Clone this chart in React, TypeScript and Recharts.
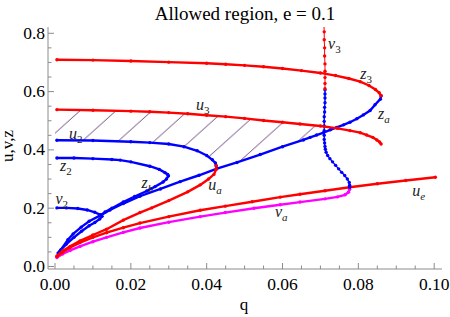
import React from 'react';
import { ComposedChart, Area, Scatter, XAxis, YAxis, ReferenceDot } from 'recharts';

type Pt = [number, number];

// axis ticks (majors get labels)
const xTicks = [0, 0.005, 0.01, 0.015, 0.02, 0.025, 0.03, 0.035, 0.04, 0.045, 0.05, 0.055, 0.06, 0.065, 0.07, 0.075, 0.08, 0.085, 0.09, 0.095, 0.1];
const yTicks = [0, 0.05, 0.1, 0.15, 0.2, 0.25, 0.3, 0.35, 0.4, 0.45, 0.5, 0.55, 0.6, 0.65, 0.7, 0.75, 0.8];

// curves, [q, value]
const z3: Pt[] = [[0.0005, 0.709], [0.01, 0.708], [0.02, 0.705], [0.03, 0.701], [0.04, 0.697], [0.045, 0.694], [0.05, 0.69], [0.055, 0.685], [0.06, 0.679], [0.065, 0.672], [0.07, 0.664], [0.074, 0.655], [0.0775, 0.645], [0.0805, 0.634], [0.0828, 0.621], [0.0845, 0.607], [0.0855, 0.596], [0.086, 0.586]];
const za: Pt[] = [[0.086, 0.586], [0.0858, 0.574], [0.0844, 0.555], [0.0831, 0.535], [0.0813, 0.52], [0.0796, 0.507], [0.0778, 0.495], [0.0761, 0.486], [0.0743, 0.477], [0.0726, 0.469], [0.0708, 0.459], [0.069, 0.451], [0.0673, 0.443], [0.0655, 0.434], [0.06, 0.411], [0.0541, 0.384], [0.048, 0.357], [0.0427, 0.336], [0.038, 0.313], [0.033, 0.291], [0.0278, 0.266], [0.0224, 0.241], [0.018, 0.216], [0.0145, 0.194], [0.0122, 0.177], [0.009, 0.155], [0.0069, 0.135], [0.0048, 0.112], [0.0034, 0.092], [0.0012, 0.051]];
const u3: Pt[] = [[0.0005, 0.538], [0.01, 0.536], [0.02, 0.533], [0.025, 0.531], [0.03, 0.528], [0.035, 0.524], [0.04, 0.519], [0.045, 0.514], [0.05, 0.508], [0.055, 0.501], [0.06, 0.495], [0.0646, 0.489], [0.07, 0.482], [0.0745, 0.474], [0.0778, 0.466], [0.0805, 0.459], [0.0822, 0.451], [0.0838, 0.443], [0.0849, 0.434], [0.0856, 0.427], [0.086, 0.42]];
const u2: Pt[] = [[0.0005, 0.433], [0.01, 0.432], [0.02, 0.428], [0.025, 0.425], [0.03, 0.42], [0.034, 0.411], [0.0375, 0.397], [0.04, 0.381], [0.0415, 0.366], [0.0423, 0.355], [0.0425, 0.346]];
const ua: Pt[] = [[0.0425, 0.346], [0.0425, 0.333], [0.0419, 0.316], [0.0405, 0.3], [0.0383, 0.28], [0.035, 0.256], [0.03, 0.226], [0.0255, 0.201], [0.0224, 0.185], [0.018, 0.159], [0.0136, 0.128], [0.01, 0.108], [0.0066, 0.088], [0.004, 0.069], [0.002, 0.053], [0.0005, 0.036]];
const ue: Pt[] = [[0.0005, 0.034], [0.002, 0.049], [0.004, 0.065], [0.0066, 0.082], [0.01, 0.1], [0.0136, 0.116], [0.018, 0.133], [0.0224, 0.149], [0.03, 0.171], [0.0383, 0.193], [0.0449, 0.207], [0.052, 0.222], [0.0594, 0.238], [0.0646, 0.248], [0.0712, 0.26], [0.0777, 0.272], [0.085, 0.284], [0.0925, 0.295], [0.1003, 0.306]];
const va: Pt[] = [[0.0005, 0.031], [0.002, 0.043], [0.004, 0.055], [0.0066, 0.069], [0.01, 0.085], [0.0136, 0.1], [0.018, 0.117], [0.0224, 0.132], [0.03, 0.152], [0.0383, 0.171], [0.0449, 0.185], [0.0525, 0.2], [0.0594, 0.212], [0.0646, 0.221], [0.0712, 0.232], [0.0745, 0.239], [0.0765, 0.246], [0.0774, 0.255], [0.0777, 0.265], [0.0777, 0.272]];
const z2: Pt[] = [[0.0005, 0.372], [0.005, 0.372], [0.01, 0.37], [0.015, 0.367], [0.0172, 0.365], [0.02, 0.359], [0.025, 0.344], [0.0275, 0.333], [0.029, 0.322], [0.0297, 0.316], [0.0299, 0.311]];
const zb: Pt[] = [[0.0299, 0.311], [0.0294, 0.3], [0.0285, 0.29], [0.0264, 0.274], [0.0242, 0.259], [0.021, 0.24], [0.018, 0.221], [0.015, 0.2], [0.0132, 0.187], [0.0122, 0.177]];
const v2: Pt[] = [[0.0005, 0.201], [0.003, 0.201], [0.006, 0.199], [0.0085, 0.194], [0.0105, 0.186], [0.0118, 0.178], [0.0124, 0.172], [0.0118, 0.163], [0.0105, 0.151], [0.009, 0.14], [0.007, 0.121], [0.005, 0.1], [0.003, 0.077], [0.0015, 0.057], [0.0008, 0.046]];
const v3Top: Pt[] = [[0.0709, 0.835], [0.071, 0.805], [0.071, 0.778], [0.0711, 0.75], [0.0711, 0.722], [0.0712, 0.695], [0.0712, 0.67], [0.0712, 0.648], [0.0712, 0.628], [0.0712, 0.61]];
const v3Low: Pt[] = [[0.0712, 0.606], [0.0712, 0.592], [0.0712, 0.578], [0.0712, 0.562], [0.0711, 0.546], [0.0711, 0.53], [0.071, 0.514], [0.071, 0.498], [0.071, 0.482], [0.071, 0.466], [0.071, 0.45], [0.071, 0.436], [0.0711, 0.424], [0.0712, 0.412], [0.0713, 0.402], [0.0715, 0.392], [0.0719, 0.381], [0.0725, 0.37], [0.0732, 0.359], [0.074, 0.347], [0.0748, 0.335], [0.0756, 0.323], [0.0764, 0.312], [0.0771, 0.3], [0.0776, 0.288], [0.0777, 0.279], [0.0777, 0.272]];

// allowed (hatched) region between u3 and u2 / za
const hatchQ = [0, 0.005, 0.01, 0.015, 0.02, 0.025, 0.03, 0.035, 0.04, 0.0425, 0.045, 0.05, 0.055, 0.06, 0.065, 0.07, 0.0738];
const hatchHi = [0.538, 0.537, 0.536, 0.535, 0.533, 0.531, 0.528, 0.524, 0.519, 0.516, 0.514, 0.508, 0.501, 0.495, 0.489, 0.482, 0.475];
const hatchLo = [0.433, 0.433, 0.432, 0.43, 0.428, 0.425, 0.42, 0.407, 0.381, 0.346, 0.345, 0.366, 0.39, 0.411, 0.432, 0.454, 0.475];

const curveLabels = [
  { q: 0.0372, v: 0.537, main: 'u', sub: '3' },
  { q: 0.0037, v: 0.436, main: 'u', sub: '2' },
  { q: 0.0013, v: 0.326, main: 'z', sub: '2' },
  { q: 0.0001, v: 0.213, main: 'v', sub: '2' },
  { q: 0.0228, v: 0.27, main: 'z', sub: 'b' },
  { q: 0.0404, v: 0.263, main: 'u', sub: 'a' },
  { q: 0.0805, v: 0.643, main: 'z', sub: '3' },
  { q: 0.0852, v: 0.506, main: 'z', sub: 'a' },
  { q: 0.072, v: 0.746, main: 'v', sub: '3' },
  { q: 0.0942, v: 0.242, main: 'u', sub: 'e' },
  { q: 0.058, v: 0.169, main: 'v', sub: 'a' },
];

const RED = '#ff0000';
const BLUE = '#0000ff';
const MAGENTA = '#ff00ff';
const FRAME = '#8c8c8c';
const SERIF = '"Liberation Serif", "Times New Roman", serif';

const X_DOMAIN = [-0.00185, 0.10206];
const Y_DOMAIN = [-0.0086, 0.8216];

const series = [
  { key: 'va', pts: va, color: MAGENTA, w: 2.4 },
  { key: 'ue', pts: ue, color: RED, w: 2.4 },
  { key: 'za', pts: za, color: BLUE, w: 2.4 },
  { key: 'zb', pts: zb, color: BLUE, w: 2.4 },
  { key: 'z2', pts: z2, color: BLUE, w: 2.4 },
  { key: 'v2', pts: v2, color: BLUE, w: 2.4 },
  { key: 'u2', pts: u2, color: BLUE, w: 2.4 },
  { key: 'v3Low', pts: v3Low, color: BLUE, w: 1.4 },
  { key: 'ua', pts: ua, color: RED, w: 2.4 },
  { key: 'u3', pts: u3, color: RED, w: 2.4 },
  { key: 'z3', pts: z3, color: RED, w: 2.4 },
  { key: 'v3Top', pts: v3Top, color: RED, w: 1 },
];

const isMajor = (v: number, step: number) => Math.abs(v / step - Math.round(v / step)) < 1e-6;

const BottomTick = (props: any) => {
  const { x, y, payload } = props;
  const major = isMajor(payload.value, 0.02);
  return (
    <g>
      <line x1={x} y1={y} x2={x} y2={y - (major ? 6 : 3.5)} stroke={FRAME} />
      {major && (
        <text x={x} y={y + 21} textAnchor="middle" fontFamily={SERIF} fontSize={17.5} fill="#000">
          {payload.value.toFixed(2)}
        </text>
      )}
    </g>
  );
};

const TopTick = (props: any) => {
  const { x, y, payload } = props;
  const major = isMajor(payload.value, 0.02);
  return <line x1={x} y1={y} x2={x} y2={y + (major ? 6 : 3.5)} stroke={FRAME} />;
};

const LeftTick = (props: any) => {
  const { x, y, payload } = props;
  const major = isMajor(payload.value, 0.2);
  return (
    <g>
      <line x1={x} y1={y} x2={x + (major ? 6 : 3.5)} y2={y} stroke={FRAME} />
      {major && (
        <text x={x - 3} y={y + 5.5} textAnchor="end" fontFamily={SERIF} fontSize={17.5} fill="#000">
          {payload.value.toFixed(1)}
        </text>
      )}
    </g>
  );
};

const RightTick = (props: any) => {
  const { x, y, payload } = props;
  const major = isMajor(payload.value, 0.2);
  return <line x1={x} y1={y} x2={x - (major ? 6 : 3.5)} y2={y} stroke={FRAME} />;
};

const YTitle = (props: any) => {
  const vb = props.viewBox || { x: 0, y: 27, width: 48, height: 242 };
  const tx = vb.x + 12.5;
  const ty = vb.y + vb.height / 2 - 2;
  return (
    <text x={tx} y={ty} transform={`rotate(-90, ${tx}, ${ty})`} textAnchor="middle" fontFamily={SERIF} fontSize={17} fill="#000">
      u,v,z
    </text>
  );
};

const dotShape = (color: string) => (p: any) => <circle cx={p.cx} cy={p.cy} r={1.7} fill={color} />;

const labelShape = (main: string, sub: string) => (p: any) => (
  <text x={p.cx} y={p.cy} fontFamily={SERIF} fontSize={16} fontStyle="italic" fill="#222">
    {main}
    <tspan fontSize={11} dy={4} fontStyle={/\d/.test(sub) ? 'normal' : 'italic'}>
      {sub}
    </tspan>
  </text>
);

export default function App() {
  const hatchData = hatchQ.map((q, i) => ({ q, range: [hatchLo[i], hatchHi[i]] }));

  return (
    <div style={{ position: 'absolute', left: 0, top: 0, width: 450, height: 317, background: '#fff' }}>
      <div
        style={{
          position: 'absolute',
          left: 145,
          top: 3.6,
          width: 200,
          textAlign: 'center',
          fontFamily: SERIF,
          fontSize: 19,
          lineHeight: '19px',
          color: '#000',
          whiteSpace: 'nowrap',
        }}
      >
        Allowed region, e = 0.1
      </div>
      <div
        style={{
          position: 'absolute',
          left: 224,
          top: 296,
          width: 40,
          textAlign: 'center',
          fontFamily: SERIF,
          fontSize: 17,
          lineHeight: '17px',
          color: '#000',
        }}
      >
        q
      </div>

      <ComposedChart width={450} height={317} data={hatchData} margin={{ top: 27, right: 8, bottom: 18, left: 0 }}>
        <defs>
          <pattern id="hatch" patternUnits="userSpaceOnUse" x={23} y={0} width={36} height={32.4}>
            <line x1={-36} y1={32.4} x2={36} y2={-32.4} stroke="#5e3470" strokeWidth={0.9} />
            <line x1={-36} y1={64.8} x2={72} y2={-32.4} stroke="#5e3470" strokeWidth={0.9} />
            <line x1={0} y1={64.8} x2={72} y2={0} stroke="#5e3470" strokeWidth={0.9} />
          </pattern>
        </defs>

        <XAxis
          dataKey="q"
          type="number"
          domain={X_DOMAIN}
          allowDataOverflow
          ticks={xTicks}
          interval={0}
          tickLine={false}
          tickSize={0}
          tickMargin={0}
          tick={<BottomTick />}
          axisLine={{ stroke: FRAME }}
          height={30}
        />
        <XAxis
          xAxisId="top"
          orientation="top"
          type="number"
          domain={X_DOMAIN}
          allowDataOverflow
          ticks={xTicks}
          interval={0}
          tickLine={false}
          tickSize={0}
          tickMargin={0}
          tick={<TopTick />}
          axisLine={{ stroke: FRAME }}
          height={0}
        />
        <YAxis
          type="number"
          domain={Y_DOMAIN}
          allowDataOverflow
          ticks={yTicks}
          interval={0}
          tickLine={false}
          tickSize={0}
          tickMargin={0}
          tick={<LeftTick />}
          axisLine={{ stroke: FRAME }}
          width={48}
          label={{ content: (p: any) => <YTitle {...p} /> }}
        />
        <YAxis
          yAxisId="right"
          orientation="right"
          type="number"
          domain={Y_DOMAIN}
          allowDataOverflow
          ticks={yTicks}
          interval={0}
          tickLine={false}
          tickSize={0}
          tickMargin={0}
          tick={<RightTick />}
          axisLine={{ stroke: FRAME }}
          width={0}
        />

        <Area
          dataKey="range"
          type="linear"
          stroke="none"
          fill="url(#hatch)"
          fillOpacity={1}
          isAnimationActive={false}
          activeDot={false}
        />

        {series.map((s) => (
          <Scatter
            key={s.key}
            data={s.pts.map(([q, v]) => ({ q, v }))}
            dataKey="v"
            fill={s.color}
            line={{ stroke: s.color, strokeWidth: s.w }}
            shape={dotShape(s.color)}
            isAnimationActive={false}
          />
        ))}

        {curveLabels.map((l) => (
          <ReferenceDot
            key={l.main + l.sub}
            x={l.q}
            y={l.v}
            r={0}
            ifOverflow="visible"
            shape={labelShape(l.main, l.sub)}
          />
        ))}
      </ComposedChart>
    </div>
  );
}
